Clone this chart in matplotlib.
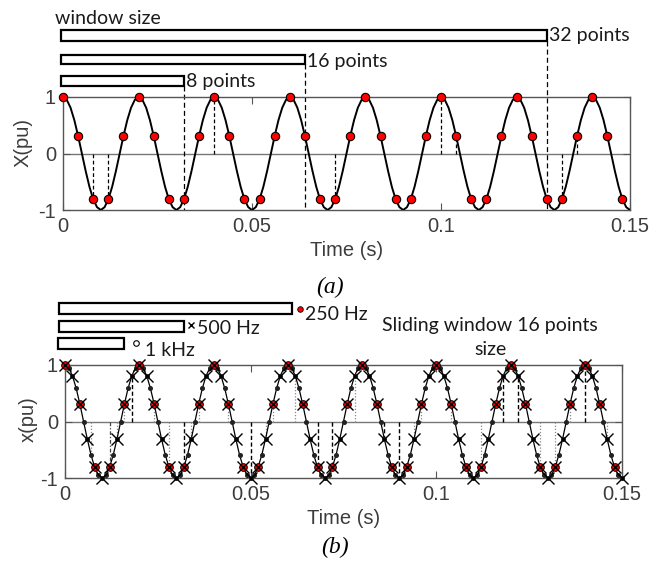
import numpy as np
import matplotlib.pyplot as plt
from matplotlib.patches import Rectangle

plt.rcParams["font.family"] = ["Liberation Sans", "DejaVu Sans"]

# ---------------- data ----------------
cycle_1k = [1.00, 0.95, 0.81, 0.59, 0.31, 0.00, -0.31, -0.59, -0.81, -0.95,
            -1.00, -0.95, -0.81, -0.59, -0.31, 0.00, 0.31, 0.59, 0.81, 0.95]
n_samples_1k = 151            # 0 ... 0.15 s at 1 ms
dt_1k = 0.001

# panel (a): window lengths (in seconds at 250 Hz) and labels
win_ends_a = [0.128, 0.064, 0.032]
win_labels_a = ["32 points", "16 points", "8 points"]
stems_a = [0.008, 0.012, 0.040, 0.072, 0.100, 0.104, 0.132, 0.136]

# panel (b): legend bar ends, labels
win_ends_b = [0.061, 0.032, 0.016]
win_labels_b = ["250 Hz", "500 Hz", "1 kHz"]
stems_b_dashed = [0.018, 0.032, 0.050, 0.068, 0.072, 0.086, 0.090, 0.118, 0.122, 0.140]
stems_b_dotted = [0.007, 0.014, 0.016, 0.024, 0.028, 0.034, 0.036, 0.044, 0.054,
                  0.056, 0.062, 0.078, 0.094, 0.096, 0.104, 0.112, 0.128, 0.132,
                  0.136, 0.146]
stems_b_dashdot = [0.012]

xticks = [0, 0.05, 0.1, 0.15]
xticklabels = ["0", "0.05", "0.1", "0.15"]
yticks = [-1, 0, 1]

# ---------------- derived sample sets ----------------
x1k = np.array((cycle_1k * 8)[:n_samples_1k])
t1k = np.arange(n_samples_1k) * dt_1k
t500, x500 = t1k[::2], x1k[::2]
t250, x250 = t1k[::4], x1k[::4]


def val_at(t):
    return x1k[int(round(t / dt_1k))]


# ---------------- figure ----------------
fig = plt.figure(figsize=(6.64, 5.61), dpi=100)
ax1 = fig.add_axes([63 / 664, 1 - 210 / 561, 567 / 664, 113 / 561])
ax2 = fig.add_axes([65 / 664, 1 - 478 / 561, 557 / 664, 113 / 561])

LABC = "#3c3c3c"
NOTEFONT = ["Lato", "DejaVu Sans"]
NOTESIZE = 14
AXC = "#555555"


def style_axes(ax, ylabel, ylab_pos):
    ax.set_xlim(0, 0.15)
    ax.set_ylim(-1, 1)
    ax.set_xticks(xticks)
    ax.set_xticklabels(xticklabels)
    ax.set_yticks(yticks)
    ax.set_yticklabels([str(v) for v in yticks])
    ax.tick_params(direction="in", top=True, right=True, length=5, width=0.8,
                   color=AXC, labelsize=14.5, labelcolor=LABC, pad=5)
    for s in ax.spines.values():
        s.set_color(AXC)
        s.set_linewidth(1.0)
    ax.set_xlabel("Time (s)", fontsize=14.5, color=LABC, labelpad=4)
    ax.set_ylabel(ylabel, fontsize=14.5, color=LABC)
    ax.yaxis.set_label_coords(*ylab_pos)
    ax.axhline(0, color="#777777", lw=1.0, zorder=1)


# ---------------- panel (a) ----------------
style_axes(ax1, "X(pu)", (-0.053, 0.60))
ax1.plot(t1k, x1k, color="black", lw=1.4, zorder=3)
for t in stems_a:
    ax1.plot([t, t], [0, val_at(t)], color="black", lw=0.9, ls=(0, (3, 2)), zorder=2)
bars_a = [(2.186, 1.996), (1.743, 1.584), (1.372, 1.195)]
txt_base_a = [1.996, 1.536, 1.17]
for end, (ytop, ybot), lab, yb in zip(win_ends_a, bars_a, win_labels_a, txt_base_a):
    ax1.add_patch(Rectangle((-0.0005, ybot), end + 0.0005, ytop - ybot, fill=False,
                            ec="black", lw=1.6, clip_on=False, zorder=4))
    ax1.plot([end, end], [ybot, -1], color="black", lw=0.9, ls=(0, (4, 2.5)),
             clip_on=False, zorder=2)
    ax1.text(end + 0.0006, yb, lab, family=NOTEFONT, fontsize=NOTESIZE, va="baseline",
             ha="left", color="#1a1a1a")
ax1.text(-0.002, 2.29, "window size", family=NOTEFONT, fontsize=NOTESIZE, va="baseline",
         ha="left", color="#1a1a1a")
ax1.plot(t250, x250, "o", mfc="red", mec="black", ms=6, mew=0.8, zorder=5, clip_on=False)

# ---------------- panel (b) ----------------
style_axes(ax2, "x(pu)", (-0.048, 0.52))
ax2.plot(t1k, x1k, color="black", lw=0.9, marker="o", ms=2.6, mfc="#222222",
         mec="#222222", zorder=3, clip_on=False)
for t in stems_b_dotted:
    ax2.plot([t, t], [0, val_at(t)], color="#888888", lw=0.9, ls=(0, (1, 1.5)), zorder=2)
for t in stems_b_dashdot:
    ax2.plot([t, t], [0, val_at(t)], color="#444444", lw=0.9, ls=(0, (3, 1.5, 1, 1.5)), zorder=2)
for t in stems_b_dashed:
    ax2.plot([t, t], [0, val_at(t)], color="black", lw=1.0, ls=(0, (3, 1.8)), zorder=2)
ax2.plot(t250, x250, "o", mfc="red", mec="black", ms=5.5, mew=0.7, zorder=5, clip_on=False)
ax2.plot(t500, x500, "x", color="black", ms=8, mew=1.0, zorder=6, clip_on=False)

bars_b = [(2.094, 1.90), (1.777, 1.583), (1.477, 1.282)]
bar_left_b = [-0.0016, -0.0016, -0.0019]
for end, left, (ytop, ybot) in zip(win_ends_b, bar_left_b, bars_b):
    ax2.add_patch(Rectangle((left, ybot), end - left, ytop - ybot, fill=False,
                            ec="black", lw=1.6, clip_on=False, zorder=4))
# legend-like markers and labels
ax2.plot([0.0633], [1.99], "o", mfc="red", mec="black", ms=4, mew=0.6, clip_on=False)
ax2.plot([0.0338], [1.706], "x", color="black", ms=4, mew=1.0, clip_on=False)
ax2.plot([0.019], [1.388], "o", mfc="white", mec="black", ms=4, mew=0.8, clip_on=False)
ax2.text(0.0646, 1.794, "250 Hz", family=NOTEFONT, fontsize=NOTESIZE, va="baseline", color="#1a1a1a")
ax2.text(0.0355, 1.547, "500 Hz", family=NOTEFONT, fontsize=NOTESIZE, va="baseline", color="#1a1a1a")
ax2.text(0.0216, 1.164, "1 kHz", family=NOTEFONT, fontsize=NOTESIZE, va="baseline", color="#1a1a1a")
ax2.text(0.1144, 1.605, "Sliding window 16 points", family=NOTEFONT, fontsize=NOTESIZE,
         va="baseline", ha="center", color="#1a1a1a")
ax2.text(0.1146, 1.176, "size", family=NOTEFONT, fontsize=NOTESIZE, va="baseline",
         ha="center", color="#1a1a1a")

# captions
fig.text(330 / 664, 1 - 293 / 561, "(a)", family="Liberation Serif", style="italic",
         fontsize=17, ha="center", va="baseline")
fig.text(335 / 664, 1 - 553 / 561, "(b)", family="Liberation Serif", style="italic",
         fontsize=17, ha="center", va="baseline")

fig.savefig("out.png", dpi=100)
